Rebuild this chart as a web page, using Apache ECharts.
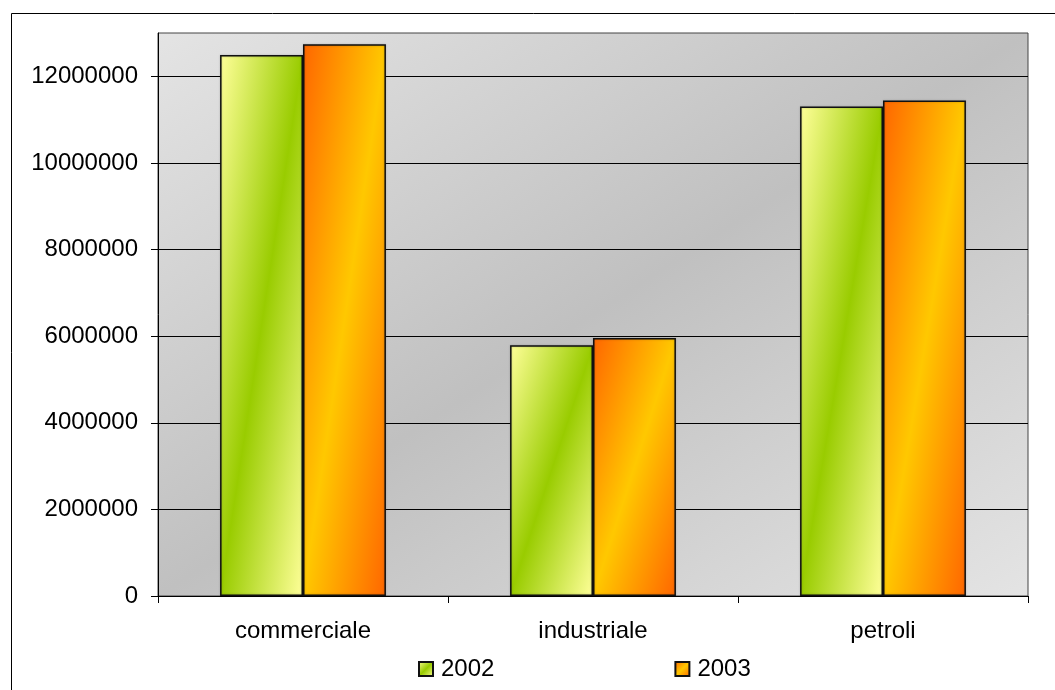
<!DOCTYPE html>
<html>
<head>
<meta charset="utf-8">
<script src="https://cdn.jsdelivr.net/npm/echarts@6/dist/echarts.min.js"></script>
<style>
  html, body { margin: 0; padding: 0; background: #fff; }
  #chart { width: 1055px; height: 690px; }
</style>
</head>
<body>
<div id="chart"></div>
<script>
// Categories and yearly totals
const categories = ['commerciale', 'industriale', 'petroli'];
const values2002 = [12490000, 5790000, 11300000];
const values2003 = [12740000, 5960000, 11440000];
const yTickValues = [0, 2000000, 4000000, 6000000, 8000000, 10000000, 12000000];

const FONT = '"Liberation Sans", Arial, sans-serif';

const palette = {
  '2002': ['#ffff99', '#99cc00'],
  '2003': ['#ff6600', '#ffc800'],
  plot: ['#e4e4e4', '#c0c0c0']
};

// Gradient whose middle colour runs exactly along the anti-diagonal
// (top-right corner to bottom-left corner) of a w x h box, with the
// edge colour at the top-left and bottom-right corners.
function bandGradient(w, h, edge, mid) {
  const s = w * w + h * h;
  const x2 = s ? 2 * h * h / s : 1;
  const y2 = s ? 2 * w * w / s : 1;
  return new echarts.graphic.LinearGradient(0, 0, x2, y2, [
    { offset: 0, color: edge },
    { offset: 0.5, color: mid },
    { offset: 1, color: edge }
  ]);
}

const chart = echarts.init(document.getElementById('chart'), null, { renderer: 'canvas' });

const barStyle = {
  borderColor: '#111',
  borderWidth: 1.5,
  shadowColor: 'rgba(0,0,0,0.25)',
  shadowBlur: 2
};

const gridBox = { left: 158, right: 27, top: 33, bottom: 94 };
const plotW = 1055 - gridBox.left - gridBox.right;
const plotH = 690 - gridBox.top - gridBox.bottom;

chart.setOption({
  animation: false,
  backgroundColor: '#fff',
  textStyle: { fontFamily: FONT },
  graphic: [{
    type: 'rect',
    left: 9, top: 11,
    shape: { width: 1100, height: 720 },
    style: { fill: 'none', stroke: '#000', lineWidth: 1 },
    silent: true,
    z: -10
  }],
  grid: Object.assign({
    show: true,
    borderColor: '#444',
    borderWidth: 1,
    backgroundColor: bandGradient(plotW, plotH, palette.plot[0], palette.plot[1])
  }, gridBox),
  legend: {
    left: 418,
    top: 657,
    padding: 0,
    itemWidth: 14,
    itemHeight: 14,
    itemGap: 180,
    icon: 'rect',
    textStyle: { fontSize: 24, color: '#000', fontFamily: FONT, padding: [0, 0, 0, 3] },
    data: ['2002', '2003']
  },
  xAxis: {
    type: 'category',
    data: categories,
    axisLine: { lineStyle: { color: '#000', width: 1 } },
    axisTick: { show: true, length: 7, alignWithLabel: false, lineStyle: { color: '#000' } },
    axisLabel: { fontSize: 24, color: '#000', margin: 23, fontFamily: FONT },
    splitLine: { show: false }
  },
  yAxis: {
    type: 'value',
    min: 0,
    max: 13000000,
    interval: 2000000,
    axisLine: { show: true, lineStyle: { color: '#000', width: 1 } },
    axisTick: { show: true, length: 7, lineStyle: { color: '#000' }, customValues: yTickValues },
    axisLabel: {
      fontSize: 24, color: '#000', margin: 20, fontFamily: FONT,
      customValues: yTickValues,
      formatter: v => String(v)
    },
    splitLine: { show: true, lineStyle: { color: '#000', width: 1 } }
  },
  series: [
    {
      name: '2002',
      type: 'bar',
      data: values2002,
      barGap: '0%',
      barCategoryGap: '42.8%',
      itemStyle: Object.assign({ color: bandGradient(1, 1, palette['2002'][0], palette['2002'][1]) }, barStyle)
    },
    {
      name: '2003',
      type: 'bar',
      data: values2003,
      barGap: '0%',
      barCategoryGap: '42.8%',
      itemStyle: Object.assign({ color: bandGradient(1, 1, palette['2003'][0], palette['2003'][1]) }, barStyle)
    }
  ]
});

// Once the bars are laid out, give each one a gradient fitted to its own size
(function fitBarGradients() {
  const sources = [['2002', values2002], ['2003', values2003]];
  const model = chart.getModel();
  const updates = sources.map(([name, vals], si) => {
    const data = model.getSeriesByIndex(si).getData();
    return {
      data: vals.map((v, j) => {
        const l = data.getItemLayout(j) || { width: 1, height: 1 };
        const w = Math.abs(l.width), h = Math.abs(l.height);
        return { value: v, itemStyle: { color: bandGradient(w, h, palette[name][0], palette[name][1]) } };
      })
    };
  });
  chart.setOption({ series: updates });
})();
</script>
</body>
</html>
